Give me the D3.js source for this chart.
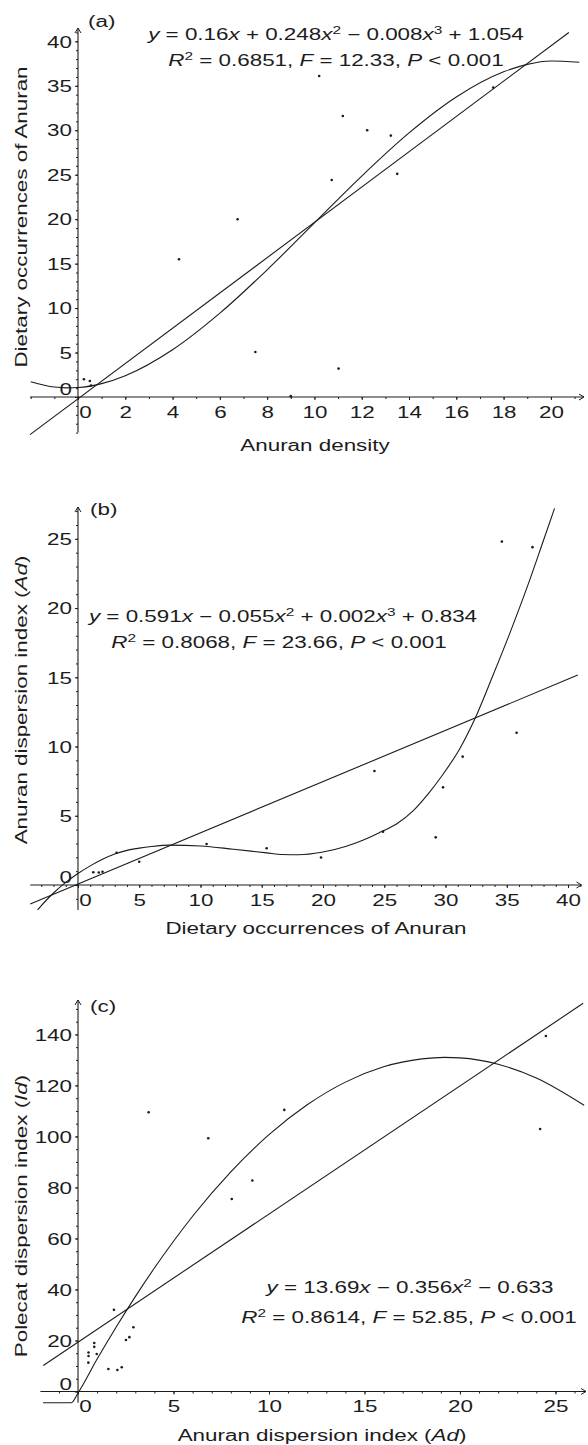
<!DOCTYPE html>
<html>
<head>
<meta charset="utf-8">
<script src="https://cdn.jsdelivr.net/npm/d3@7"></script>
<style>
body{margin:0;background:#fff;}
svg text{font-family:"Liberation Sans",Arial,Helvetica,sans-serif;fill:#1c1c1c;white-space:pre;}
</style>
</head>
<body>
<script>
// ---- panel (a): dietary occurrences vs anuran density
var aDensity = [0.25,0.5,0.55,4.27,6.75,7.5,9.0,10.2,10.73,11.02,11.2,12.23,13.23,13.5,17.56];
var aOccur   = [2.0,1.8,1.3,15.5,20.0,5.06,0.1,36.1,24.4,3.2,31.6,30.0,29.4,25.1,34.8];
var aCurveX  = [-2,-1,-0.5,0,1,2,4,6,8,10,12,14,16,18,19,20,21.2];
var aCurveY  = [1.72,1.12,1.03,1.07,1.51,2.40,5.32,9.43,14.31,19.59,24.85,29.70,33.74,36.57,37.41,37.79,37.65];
var aLineX   = [-2.03,20.76];
var aLineY   = [-4.23,41.0];
var aTicksX  = [0,2,4,6,8,10,12,14,16,18,20];
var aTicksY  = [0,5,10,15,20,25,30,35,40];

// ---- panel (b): anuran dispersion index vs dietary occurrences
var bOccur   = [1.25,1.7,2.0,3.15,5.0,10.5,15.4,19.84,24.2,24.9,29.2,29.8,31.4,35.8,34.6,37.1];
var bAd      = [0.92,0.9,0.96,2.33,1.68,2.96,2.65,1.99,8.23,3.85,3.44,7.05,9.27,11.0,24.8,24.4];
var bCurveX  = [-3.3,-2,-1,0,1,2,3,4,5,6,7.5,10,12.7,15.4,16.7,18,19.9,21.9,23.3,24.65,26,27.35,28.6,29.8,31.2,32.4,33.9,35.3,36.7,38.0,38.9];
var bCurveY  = [-1.79,-0.58,0.19,0.83,1.38,1.86,2.24,2.5,2.66,2.78,2.88,2.82,2.58,2.32,2.2,2.18,2.36,2.8,3.25,3.8,4.4,5.35,6.6,8.0,9.9,12.0,15.2,18.3,21.6,24.9,27.2];
var bLineX   = [-3.9,40.8];
var bLineY   = [-1.37,15.16];
var bTicksX  = [0,5,10,15,20,25,30,35,40];
var bTicksY  = [0,5,10,15,20,25];

// ---- panel (c): polecat dispersion index vs anuran dispersion index
var cAd      = [0.55,0.55,0.54,0.85,0.85,0.98,1.59,1.88,2.06,2.29,2.51,2.69,2.9,3.7,6.82,8.05,9.13,10.8,24.2,24.5];
var cId      = [15.3,13.9,11.3,19.0,17.5,14.7,8.8,32.0,8.4,9.5,20.2,21.3,25.2,109.5,99.3,75.5,82.7,110.4,102.9,139.4];
var cCurveX  = [-1.83,-0.35,0,1,2,3,4,5,6,8,10,12,14,16,18,19.2,20,22,24,26.5];
var cCurveY  = [-4.4,-4.4,-0.6,12.7,25.3,37.2,48.4,58.9,68.7,86.1,100.7,112.4,121.3,127.3,130.4,131.0,130.8,128.3,122.9,112.2];
var cLineX   = [-1.82,26.45];
var cLineY   = [10.2,152.2];
var cTicksX  = [0,5,10,15,20,25];
var cTicksY  = [0,20,40,60,80,100,120,140];

var SX = 1.4;   // the lettering in the figure is wide
var FS = 16;
var INK = "#1c1c1c";

var svg = d3.select("body").append("svg").attr("width",588).attr("height",1445);

function label(g, x, y, parts, anchor, rot) {
  var t = g.append("text")
    .attr("transform","translate("+x+","+y+")"+(rot?" rotate(-90)":"")+" scale("+SX+",1)")
    .attr("text-anchor",anchor||"middle")
    .attr("font-size",FS);
  var up = false;
  parts.forEach(function(p){
    var ts = t.append("tspan").text(p[0]);
    if (p[1]=="i") ts.attr("font-style","italic");
    if (p[1]=="s") { ts.attr("font-size",11).attr("dy",-6); up = true; }
    else if (up) { ts.attr("dy",6); up = false; }
  });
  return t;
}

function panel(o) {
  var g = svg.append("g");
  var x = d3.scaleLinear().domain(o.xd).range(o.xr);
  var y = d3.scaleLinear().domain(o.yd).range(o.yr);
  var x0 = x(0), y0 = y(0);

  // minor ticks
  g.append("g").attr("transform","translate(0,"+y0+")")
    .call(d3.axisBottom(x).tickValues(o.xMinor).tickSize(2).tickFormat(""))
    .call(function(s){ s.select(".domain").remove(); });
  g.append("g").attr("transform","translate("+x0+",0)")
    .call(d3.axisLeft(y).tickValues(o.yMinor).tickSize(2).tickFormat(""))
    .call(function(s){ s.select(".domain").remove(); });

  // major ticks + labels
  var gx = g.append("g").attr("transform","translate(0,"+y0+")")
    .call(d3.axisBottom(x).tickValues(o.xTicks).tickSize(3).tickFormat(d3.format("d")));
  gx.select(".domain").remove();
  gx.selectAll("text").attr("font-family",null).attr("font-size",FS)
    .attr("y",21).attr("dy",null)
    .attr("x",function(d){ return d===0 ? 7/SX : 0; })
    .attr("transform","scale("+SX+",1)");

  var gy = g.append("g").attr("transform","translate("+x0+",0)")
    .call(d3.axisLeft(y).tickValues(o.yTicks).tickSize(3).tickFormat(d3.format("d")));
  gy.select(".domain").remove();
  gy.selectAll("text").attr("font-family",null).attr("font-size",FS)
    .attr("x",-6/SX).attr("dy",null)
    .attr("y",function(d){ return d===0 ? 5.7-8 : 5.7; })
    .attr("transform","scale("+SX+",1)");
  g.selectAll(".tick line").attr("stroke",INK);

  // axes with arrow heads
  var xr = o.xr, yr = o.yr;
  g.append("line").attr("x1",xr[0]).attr("x2",xr[1]).attr("y1",y0).attr("y2",y0)
    .attr("stroke",INK).attr("stroke-width",1.1);
  g.append("line").attr("x1",x0).attr("x2",x0).attr("y1",yr[0]).attr("y2",yr[1])
    .attr("stroke",INK).attr("stroke-width",1.1);
  g.append("path").attr("d","M"+(xr[1]-5)+","+(y0-3)+"L"+xr[1]+","+y0+"L"+(xr[1]-5)+","+(y0+3))
    .attr("fill","none").attr("stroke",INK);
  g.append("path").attr("d","M"+(x0-3)+","+(yr[1]+5)+"L"+x0+","+yr[1]+"L"+(x0+3)+","+(yr[1]+5))
    .attr("fill","none").attr("stroke",INK);

  // fitted curves
  var line = d3.line().x(function(d){ return x(d[0]); }).y(function(d){ return y(d[1]); });
  g.append("path").datum(d3.zip(o.lineX,o.lineY)).attr("d",line)
    .attr("fill","none").attr("stroke",INK).attr("stroke-width",1.1);
  g.append("path").datum(d3.zip(o.curveX,o.curveY)).attr("d",line.curve(d3.curveMonotoneX))
    .attr("fill","none").attr("stroke",INK).attr("stroke-width",1.1);

  // observations
  g.selectAll("circle.pt").data(d3.zip(o.px,o.py)).enter().append("circle")
    .attr("class","pt")
    .attr("cx",function(d){ return x(d[0]); })
    .attr("cy",function(d){ return y(d[1]); })
    .attr("r",1.3).attr("fill",INK);

  // texts
  label(g, o.tag[0], o.tag[1], [[o.tag[2]]], "start");
  label(g, o.xt[0], o.xt[1], o.xt[2]);
  label(g, o.yt[0], o.yt[1], o.yt[2], "middle", true);
  label(g, o.e1[0], o.e1[1], o.e1[2]);
  label(g, o.e2[0], o.e2[1], o.e2[2]);
}

panel({
  xd:[-2.03,21.4], xr:[30,584], yd:[-4,41.5], yr:[432.6,28],
  xTicks:aTicksX, yTicks:aTicksY, xMinor:d3.range(-2,22,1), yMinor:d3.range(-4,42,1),
  px:aDensity, py:aOccur, curveX:aCurveX, curveY:aCurveY, lineX:aLineX, lineY:aLineY,
  tag:[88,27,"(a)"],
  xt:[315,451,[["Anuran density"]]],
  yt:[27,217,[["Dietary occurrences of Anuran"]]],
  e1:[336,40,[["y","i"],[" = 0.16"],["x","i"],[" + 0.248"],["x","i"],["2","s"],[" − 0.008"],["x","i"],["3","s"],[" + 1.054"]]],
  e2:[336,66,[["R","i"],["2","s"],[" = 0.6851, "],["F","i"],[" = 12.33, "],["P","i"],[" < 0.001"]]]
});

panel({
  xd:[-3.9,41.1], xr:[30.2,581.5], yd:[-1.8,27.3], yr:[909.9,507],
  xTicks:bTicksX, yTicks:bTicksY, xMinor:d3.range(-3,42,1), yMinor:d3.range(-1,28,1),
  px:bOccur, py:bAd, curveX:bCurveX, curveY:bCurveY, lineX:bLineX, lineY:bLineY,
  tag:[90,515,"(b)"],
  xt:[316,934,[["Dietary occurrences of Anuran"]]],
  yt:[27,700,[["Anuran dispersion index ("],["Ad","i"],[")"]]],
  e1:[283,622,[["y","i"],[" = 0.591"],["x","i"],[" − 0.055"],["x","i"],["2","s"],[" + 0.002"],["x","i"],["3","s"],[" + 0.834"]]],
  e2:[279,648,[["R","i"],["2","s"],[" = 0.8068, "],["F","i"],[" = 23.66, "],["P","i"],[" < 0.001"]]]
});

panel({
  xd:[-1.97,26.6], xr:[40.4,586], yd:[-4.4,153.5], yr:[1402.7,1000],
  xTicks:cTicksX, yTicks:cTicksY, xMinor:d3.range(-1,27,1), yMinor:d3.range(0,155,5),
  px:cAd, py:cId, curveX:cCurveX, curveY:cCurveY, lineX:cLineX, lineY:cLineY,
  tag:[90,1012,"(c)"],
  xt:[322,1441,[["Anuran dispersion index ("],["Ad","i"],[")"]]],
  yt:[27,1216,[["Polecat dispersion index ("],["Id","i"],[")"]]],
  e1:[410,1293,[["y","i"],[" = 13.69"],["x","i"],[" − 0.356"],["x","i"],["2","s"],[" − 0.633"]]],
  e2:[409,1323,[["R","i"],["2","s"],[" = 0.8614, "],["F","i"],[" = 52.85, "],["P","i"],[" < 0.001"]]]
});
</script>
</body>
</html>
